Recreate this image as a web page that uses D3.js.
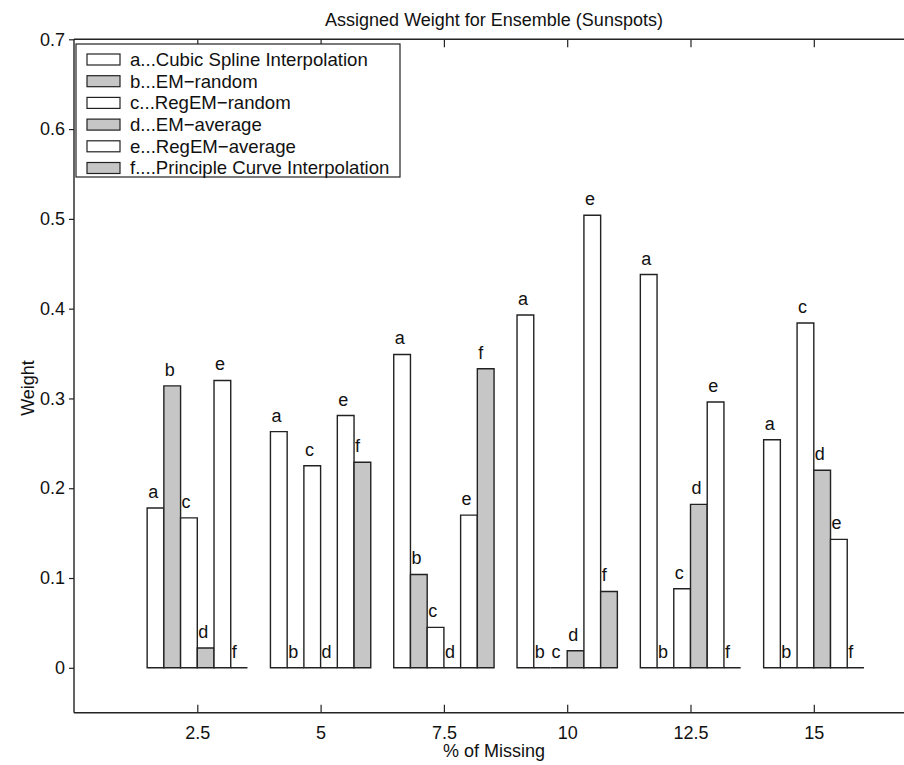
<!DOCTYPE html>
<html>
<head>
<meta charset="utf-8">
<script src="https://cdn.jsdelivr.net/npm/d3@7/dist/d3.min.js"></script>
<style>
  html, body { margin: 0; padding: 0; background: #fff; }
  svg { display: block; }
  text { font-family: Arial, "Liberation Sans", Helvetica, sans-serif; fill: #111; }
</style>
</head>
<body>
<svg id="chart" width="904" height="765"></svg>
<script>
// ---- data ----
const categories = [2.5, 5, 7.5, 10, 12.5, 15];
const seriesLetters = ["a", "b", "c", "d", "e", "f"];
const seriesNames = [
  "a...Cubic Spline Interpolation",
  "b...EM\u2212random",
  "c...RegEM\u2212random",
  "d...EM\u2212average",
  "e...RegEM\u2212average",
  "f....Principle Curve Interpolation"
];
const seriesShaded = [false, true, false, true, false, true];
const valuesA = [0.178, 0.263, 0.349, 0.393, 0.438, 0.254];
const valuesB = [0.314, 0.000, 0.104, 0.000, 0.000, 0.000];
const valuesC = [0.167, 0.225, 0.045, 0.000, 0.088, 0.384];
const valuesD = [0.022, 0.000, 0.000, 0.019, 0.182, 0.220];
const valuesE = [0.320, 0.281, 0.170, 0.504, 0.296, 0.143];
const valuesF = [0.000, 0.229, 0.333, 0.085, 0.000, 0.000];
const seriesValues = [valuesA, valuesB, valuesC, valuesD, valuesE, valuesF];
const yTicks = [0, 0.1, 0.2, 0.3, 0.4, 0.5, 0.6, 0.7];
const xTicks = [2.5, 5, 7.5, 10, 12.5, 15];
const titleText = "Assigned Weight for Ensemble (Sunspots)";
const xLabel = "% of Missing";
const yLabel = "Weight";

// ---- layout ----
const svg = d3.select("#chart");
const plotLeft = 74, plotTop = 39.3, plotBottom = 712.7;
const pxPerUnit = 49.32;
const x = d3.scaleLinear().domain([0, 17.5]).range([plotLeft, plotLeft + 17.5 * pxPerUnit]);
const y = d3.scaleLinear().domain([-0.05, 0.7]).range([plotBottom, plotTop]);
const barW = 0.339;
const lineColor = "#222";
const shade = "#c6c6c6";

// bars
seriesValues.forEach((vals, si) => {
  vals.forEach((v, ci) => {
    const c = categories[ci];
    const x0 = x(c + (si - 3) * barW), x1 = x(c + (si - 2) * barW);
    const y0 = y(0), y1 = y(v);
    const p = d3.path();
    p.moveTo(x0, y0); p.lineTo(x0, y1); p.lineTo(x1, y1); p.lineTo(x1, y0); p.closePath();
    svg.append("path").attr("d", p.toString())
      .attr("fill", seriesShaded[si] ? shade : "#fff")
      .attr("stroke", lineColor).attr("stroke-width", 1.4);
    svg.append("text").attr("x", x0 + 1).attr("y", y1 - 10)
      .attr("font-size", 18).text(seriesLetters[si]);
  });
});

// frame
svg.append("line").attr("x1", plotLeft).attr("x2", 904).attr("y1", plotTop).attr("y2", plotTop)
  .attr("stroke", lineColor).attr("stroke-width", 1.4);
svg.append("line").attr("x1", plotLeft).attr("x2", 904).attr("y1", plotBottom).attr("y2", plotBottom)
  .attr("stroke", lineColor).attr("stroke-width", 1.4);
svg.append("line").attr("x1", plotLeft).attr("x2", plotLeft).attr("y1", plotTop).attr("y2", plotBottom)
  .attr("stroke", lineColor).attr("stroke-width", 1.4);

// x axis ticks (inward, top and bottom) via d3 axes
const xAxisB = d3.axisBottom(x).tickValues(xTicks).tickSize(-8).tickPadding(14)
  .tickFormat(d => String(d));
const gxb = svg.append("g").attr("transform", `translate(0,${plotBottom})`).call(xAxisB);
gxb.select(".domain").remove();
gxb.selectAll("line").attr("stroke", lineColor).attr("stroke-width", 1.2);
gxb.selectAll("text").attr("font-size", 18).attr("font-family", "Arial, 'Liberation Sans', sans-serif").attr("fill", "#111");

const xAxisT = d3.axisTop(x).tickValues(xTicks).tickSize(-8).tickFormat("");
const gxt = svg.append("g").attr("transform", `translate(0,${plotTop})`).call(xAxisT);
gxt.select(".domain").remove();
gxt.selectAll("line").attr("stroke", lineColor).attr("stroke-width", 1.2);

const yAxis = d3.axisLeft(y).tickValues(yTicks).tickSize(5).tickPadding(4)
  .tickFormat(d => d === 0 ? "0" : d3.format(".1f")(d));
const gy = svg.append("g").attr("transform", `translate(${plotLeft},0)`).call(yAxis);
gy.select(".domain").remove();
gy.selectAll("line").attr("stroke", lineColor).attr("stroke-width", 1.2);
gy.selectAll("text").attr("font-size", 18).attr("font-family", "Arial, 'Liberation Sans', sans-serif").attr("fill", "#111");

// titles
svg.append("text").attr("x", 494).attr("y", 26).attr("text-anchor", "middle")
  .attr("font-size", 18).text(titleText);
svg.append("text").attr("x", 494).attr("y", 757).attr("text-anchor", "middle")
  .attr("font-size", 18).text(xLabel);
svg.append("text").attr("transform", "translate(34,388) rotate(-90)")
  .attr("text-anchor", "middle").attr("font-size", 18).text(yLabel);

// legend
const lg = svg.append("g");
lg.append("rect").attr("x", 76).attr("y", 44).attr("width", 324).attr("height", 133)
  .attr("fill", "#fff").attr("stroke", lineColor).attr("stroke-width", 1.2);
seriesNames.forEach((name, i) => {
  const cy = 59.5 + i * 21.7;
  lg.append("rect").attr("x", 87).attr("y", cy - 5.5).attr("width", 33).attr("height", 11)
    .attr("fill", seriesShaded[i] ? shade : "#fff").attr("stroke", lineColor).attr("stroke-width", 1.2);
  lg.append("text").attr("x", 130).attr("y", cy + 6.4).attr("font-size", 18.6).text(name);
});
</script>
</body>
</html>
